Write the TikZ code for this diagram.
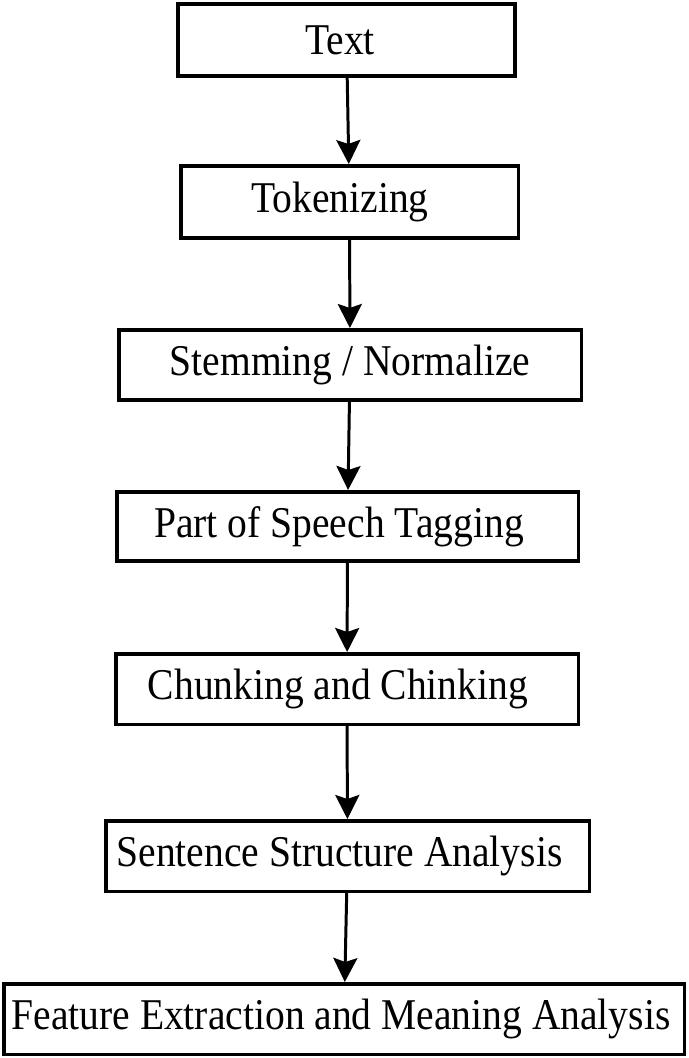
\documentclass[tikz,border=0pt]{standalone}
\usepackage{fontspec}
\setmainfont{Liberation Serif}[FakeStretch=0.9]
\usetikzlibrary{arrows.meta}
\begin{document}
\begin{tikzpicture}[box/.style = {draw, line width=2pt, inner sep=0pt, font=\fontsize{25}{30}\selectfont}, flow/.style = {line width=1.7pt, -{Stealth[length=0.48cm, width=0.48cm, inset=0.08cm]}}]
  \useasboundingbox (0,0) rectangle (13.78,-21.16);
  \node[box, minimum width=6.75cm, minimum height=1.45cm] (text)  at (6.93,-0.80)  {Text\kern0.26cm};
  \node[box, minimum width=6.75cm, minimum height=1.45cm] (token) at (6.99,-4.04)  {Tokenizing\kern0.38cm};
  \node[box, minimum width=9.25cm, minimum height=1.41cm] (stem)  at (7.00,-7.30)  {Stemming / Normalize};
  \node[box, minimum width=9.23cm, minimum height=1.39cm] (pos)   at (6.95,-10.53) {Part of Speech Tagging\kern0.34cm};
  \node[box, minimum width=9.25cm, minimum height=1.41cm] (chunk) at (6.94,-13.78) {Chunking and Chinking\kern0.36cm};
  \node[box, minimum width=9.67cm, minimum height=1.41cm] (sent)  at (6.95,-17.12) {Sentence Structure Analysis\kern0.32cm};
  \node[box, minimum width=13.61cm, minimum height=1.41cm] (feat) at (6.88,-20.38) {Feature Extraction and Meaning Analysis\kern0.12cm};

  \draw[flow] (text)--(token);
  \draw[flow] (token)--(stem);
  \draw[flow] (stem)--(pos);
  \draw[flow] (pos)--(chunk);
  \draw[flow] (chunk)--(sent);
  \draw[flow] (sent)--(feat);
\end{tikzpicture}
\end{document}
